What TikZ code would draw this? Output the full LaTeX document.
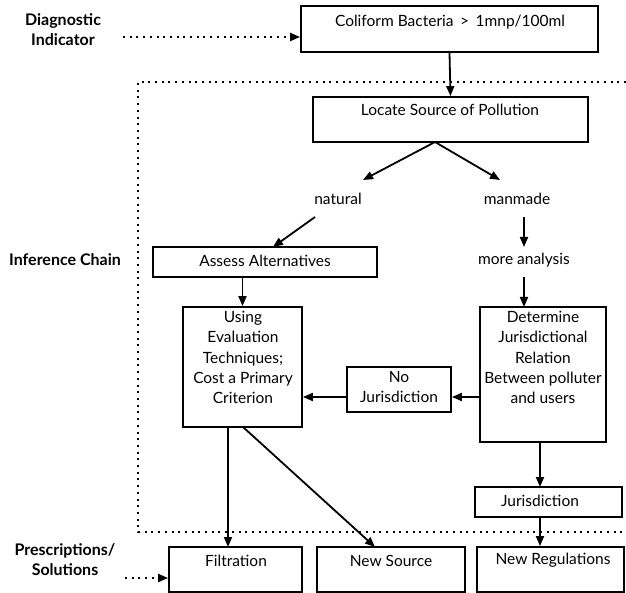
\documentclass[tikz,border=0pt]{standalone}
\usepackage{fontspec}
\setmainfont{Lato}
\usetikzlibrary{arrows.meta,calc}
\tikzset{
  box/.style={draw, line width=1.8pt, inner sep=0pt},
  txt/.style={font=\fontsize{15.5}{20.3}\selectfont, align=center, inner sep=0pt},
  side/.style={font=\bfseries\fontsize{16}{20}\selectfont, align=center, inner sep=0pt},
  arr/.style={line width=1.8pt, -{Triangle[length=10pt,width=8pt]}},
  dotarr/.style={line width=2pt, dash pattern=on 2pt off 4.7pt, -{Triangle[length=10pt,width=8pt]}},
  frame/.style={line width=2pt, dash pattern=on 2pt off 4.7pt}
}
\newcommand{\bx}[5]{\node[box, minimum width=#4-#2, minimum height=#5-#3] (#1) at ({(#2+#4)/2},{(#3+#5)/2}) {};}
\begin{document}
\begin{tikzpicture}[x=1pt,y=-1pt]
\useasboundingbox (0,0) rectangle (626,593);
% frame
\draw[frame] (626,82) -- (138,82) -- (138,532) -- (626,532);
% boxes
\bx{coli}{301}{6}{598}{52}
\bx{locate}{313}{97}{588}{142}
\bx{assess}{153}{247}{377}{277}
\bx{using}{183}{307}{302}{427}
\bx{nojur}{347}{367}{451}{412}
\bx{determ}{480}{307}{606}{442}
\bx{jur}{475}{487}{622}{517}
\bx{filt}{169}{547}{302}{592}
\bx{newsrc}{317}{547}{465}{592}
\bx{newreg}{477}{547}{624}{592}
% box texts
\node[txt] (colit) at (450,22) {Coliform Bacteria \,>\, 1mnp/100ml};
\node[txt] (locatet) at (450,110) {Locate Source of Pollution};
\node[txt] (assesst) at (265,261) {Assess Alternatives};
\node[txt, anchor=north] (usingt) at (243,311) {Using\\Evaluation\\Techniques;\\Cost a Primary\\Criterion};
\node[txt, anchor=north] (nojurt) at (399,371) {No\\Jurisdiction};
\node[txt, anchor=north] (determt) at (543,311) {Determine\\Jurisdictional\\Relation\\Between polluter\\and users};
\node[txt] (jurt) at (540,501) {Jurisdiction};
\node[txt] (filtt) at (236,561) {Filtration};
\node[txt] (newsrct) at (391,561) {New Source};
\node[txt] (newregt) at (553,560) {New Regulations};
% free texts
\node[txt] (natural) at (338,199) {natural};
\node[txt] (manmade) at (517,199) {manmade};
\node[txt] (more) at (524,260) {more analysis};
% side labels
\node[side] (diag) at (63,30) {Diagnostic\\Indicator};
\node[side] (infer) at (65,260) {Inference Chain};
\node[side] (presc) at (65,560) {Prescriptions/\\Solutions};
% coordinates
\coordinate (split) at (435,142);
\coordinate (natend) at (363,180);
\coordinate (manend) at (500,180);
\coordinate (natstart) at (315,217);
\coordinate (natto) at (273,247);
\coordinate (manstart) at (524,217);
\coordinate (manto) at (524,247);
\coordinate (morestart) at (524,277);
\coordinate (moreto) at (524,307);
\coordinate (diagstart) at (123,37);
\coordinate (prescstart) at (125,578);
% connectors
\draw[arr] (coli.south) -- (locate.north);
\draw[arr] (split) -- (natend);
\draw[arr] (split) -- (manend);
\draw[arr] (natstart) -- (natto);
\draw[arr] (manstart) -- (manto);
\draw[arr] (morestart) -- (moreto);
\draw[arr] (using.north |- assess.south) -- (using.north);
\draw[arr] (determ.west |- 0,397) -- (nojur.east |- 0,397);
\draw[arr] (nojur.west |- 0,397) -- (using.east |- 0,397);
\draw[arr] (228,427) -- (228,547);
\draw[arr] (243,427) -- (375,547);
\draw[arr] (540,442) -- (540,487);
\draw[arr] (jur.south -| 540,0) -- (newreg.north -| 540,0);
\draw[dotarr] (diagstart) -- (coli.west |- diagstart);
\draw[dotarr] (prescstart) -- (filt.west |- prescstart);
\end{tikzpicture}
\end{document}
